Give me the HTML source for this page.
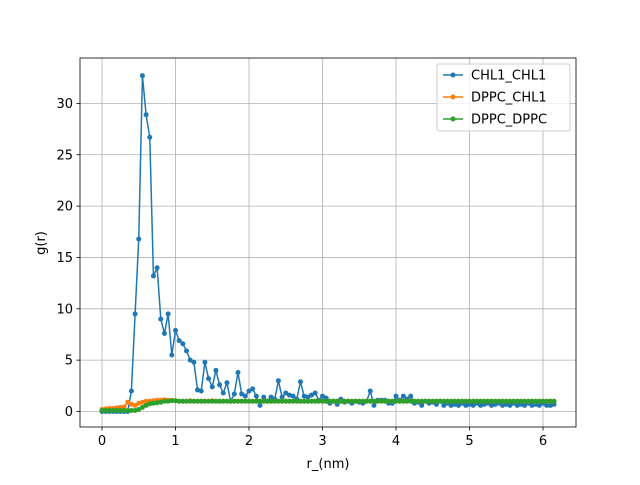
<!DOCTYPE html>
<html><head><meta charset="utf-8"><style>body{margin:0;background:#fff}svg{font-family:"DejaVu Sans","Liberation Sans",sans-serif}</style></head>
<body>
<svg id="c" width="640" height="480"></svg>
<script>
const rStep = 0.05;
const chlChl = [0,0,0,0,0,0,0,0,2,9.5,16.8,32.7,28.9,26.7,13.2,14,9,7.6,9.5,5.5,7.9,6.9,6.6,5.9,5,4.8,2.1,2,4.8,3.2,2.4,4.0,2.6,1.8,2.8,1.0,1.7,3.8,1.7,1.5,2.0,2.2,1.5,0.6,1.4,1.0,1.4,1.2,3.0,1.4,1.8,1.6,1.5,1.2,2.9,1.5,1.4,1.6,1.8,1.1,1.5,1.3,0.8,1.0,0.7,1.2,0.9,1.0,0.8,1.0,0.9,0.8,1.0,2.0,0.6,1.1,1.1,1.1,0.8,0.8,1.5,1.1,1.5,1.2,1.5,0.8,0.9,0.6,1.0,0.8,0.9,0.7,1.0,0.6,0.8,0.6,0.7,0.6,0.8,0.6,0.7,0.6,0.8,0.6,0.7,0.8,0.6,0.7,0.8,0.6,0.7,0.6,0.8,0.6,0.7,0.6,0.8,0.6,0.7,0.6,0.8,0.6,0.6,0.7];
const dppcChl = [0.2,0.25,0.3,0.3,0.35,0.4,0.45,0.9,0.7,0.6,0.8,0.9,1.0,1.0,1.05,1.1,1.1,1.15,1.1,1.1,1.05,1.0,1.0,1.0,1.05,1.0,1.0,1.0,1.0,1.0,1.05,1.0,1.0,1.0,1.0,1.0];
const dppcDppc = [0.1,0.1,0.1,0.1,0.1,0.1,0.1,0.1,0.1,0.1,0.2,0.4,0.6,0.75,0.8,0.85,0.9,1.0,1.0,1.05,1.05,1.0,1.0,1.0,1.0,1.0,1.0,1.0,1.0,1.0,1.0,1.0,1.0,1.0];
const xTicks = [0,1,2,3,4,5,6];
const yTicks = [0,5,10,15,20,25,30];
const seriesNames = ["CHL1_CHL1","DPPC_CHL1","DPPC_DPPC"];
const colors = ["#1f77b4","#ff7f0e","#2ca02c"];
const N = chlChl.length;
function pad(a){const o=a.slice();while(o.length<N)o.push(1.0);return o;}
const L=80,R=576,T=58,B=427;
const xs=v=>102+v*73.5;
const ys=v=>411.5-v*10.27;
const ns="http://www.w3.org/2000/svg";
const svg=document.getElementById('c');
function mk(t,a,p){const e=document.createElementNS(ns,t);for(const k in a)e.setAttribute(k,a[k]);(p||svg).appendChild(e);return e;}
mk('rect',{x:L,y:T,width:R-L,height:B-T,fill:'#fff'});
xTicks.forEach(v=>{const g=mk('line',{x1:xs(v),x2:xs(v),y1:T,y2:B,stroke:'#b0b0b0','stroke-width':0.8});

mk('line',{x1:xs(v),x2:xs(v),y1:B,y2:B+3.5,stroke:'#000','stroke-width':0.8});
const t=mk('text',{x:xs(v),y:B+18,'text-anchor':'middle','font-size':13});t.textContent=v;
});
yTicks.forEach(v=>{const g=mk('line',{x1:L,x2:R,y1:ys(v),y2:ys(v),stroke:'#b0b0b0','stroke-width':0.8});

mk('line',{x1:L-3.5,x2:L,y1:ys(v),y2:ys(v),stroke:'#000','stroke-width':0.8});
const t=mk('text',{x:L-7,y:ys(v)+4.5,'text-anchor':'end','font-size':13});t.textContent=v;
});
const data=[chlChl,pad(dppcChl),pad(dppcDppc)];
data.forEach((d,i)=>{const g=mk('g',{});

mk('polyline',{points:d.map((v,j)=>xs(j*rStep)+','+ys(v)).join(' '),fill:'none',stroke:colors[i],'stroke-width':1.5},g);
d.forEach((v,j)=>{const c=mk('circle',{cx:xs(j*rStep),cy:ys(v),r:2.5,fill:colors[i]},g);
});});
const fr=mk('rect',{x:L,y:T,width:R-L,height:B-T,fill:'none',stroke:'#000','stroke-width':0.8});

let t=mk('text',{x:328,y:468,'text-anchor':'middle','font-size':13});t.textContent='r_(nm)';

t=mk('text',{x:45,y:243,'text-anchor':'middle','font-size':13,transform:'rotate(-90 45 243)'});t.textContent='g(r)';

const lg=mk('g',{});
mk('rect',{x:437,y:64,width:133,height:67,rx:2,fill:'#fff','fill-opacity':0.8,stroke:'#ccc'},lg);
seriesNames.forEach((n,i)=>{const y=75+i*22;const e=mk('g',{},lg);

mk('line',{x1:443,x2:463,y1:y,y2:y,stroke:colors[i],'stroke-width':1.5},e);
mk('circle',{cx:453,cy:y,r:2.5,fill:colors[i]},e);
const tt=mk('text',{x:471,y:y+4.5,'font-size':13},e);tt.textContent=n;});
</script>
</body></html>
